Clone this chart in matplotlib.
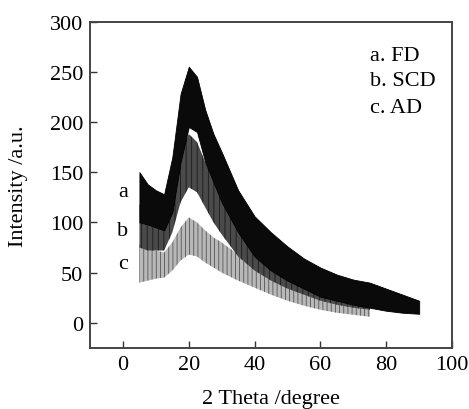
import matplotlib
matplotlib.use("Agg")
import matplotlib.pyplot as plt

plt.rcParams['font.family'] = ['Liberation Serif', 'DejaVu Serif']
plt.rcParams['hatch.linewidth'] = 0.6

# envelopes of the noisy XRD patterns
x_a = [5, 7.5, 10, 12.5, 15, 17.5, 20, 22.5, 25, 27.5, 30, 35, 40, 45, 50, 55, 60, 65, 70, 75, 80, 85, 90]
a_upper = [150, 138, 132, 128, 165, 228, 255, 245, 212, 188, 170, 132, 106, 90, 76, 64, 55, 48, 43, 40, 34, 28, 22]
a_lower = [100, 98, 95, 92, 110, 160, 195, 190, 160, 140, 120, 90, 66, 52, 42, 34, 26, 22, 18, 15, 12, 10, 9]

x_bc = [5, 7.5, 10, 12.5, 15, 17.5, 20, 22.5, 25, 27.5, 30, 35, 40, 45, 50, 55, 60, 65, 70, 75]
b_upper = [118, 112, 108, 105, 130, 170, 188, 180, 160, 145, 130, 105, 82, 66, 56, 46, 38, 32, 28, 26]
b_lower = [75, 72, 72, 72, 90, 120, 135, 130, 115, 100, 88, 66, 52, 42, 34, 28, 22, 18, 15, 13]
c_upper = [78, 74, 72, 70, 80, 95, 105, 100, 92, 85, 80, 68, 58, 50, 44, 37, 32, 28, 25, 24]
c_lower = [40, 42, 44, 45, 52, 62, 68, 66, 60, 55, 50, 42, 35, 28, 22, 17, 13, 10, 8, 6]

curve_labels = ['a', 'b', 'c']
curve_label_y = [131, 92, 59]
legend_lines = ['a. FD', 'b. SCD', 'c. AD']
legend_y = [266, 241, 214]

fig = plt.figure(figsize=(4.69, 4.10), dpi=100)
ax = fig.add_axes([0.192, 0.149, 0.772, 0.796])

ax.fill_between(x_bc, c_lower, c_upper, facecolor='#b8b8b8', edgecolor='#555555',
                hatch='||||', linewidth=0)
ax.fill_between(x_bc, b_lower, b_upper, facecolor='#4a4a4a', edgecolor='#1a1a1a',
                hatch='|||', linewidth=0)
ax.fill_between(x_a, a_lower, a_upper, facecolor='#0a0a0a', edgecolor='black', linewidth=0.6)

for lab, y in zip(curve_labels, curve_label_y):
    ax.text(0, y, lab, fontsize=16, ha='center', va='center')
for txt, y in zip(legend_lines, legend_y):
    ax.text(75, y, txt, fontsize=16, ha='left', va='center')

ax.set_xlim(-10, 100)
ax.set_ylim(-25, 300)
ax.set_xticks([0, 20, 40, 60, 80, 100])
ax.set_yticks([0, 50, 100, 150, 200, 250, 300])
ax.tick_params(direction='in', length=5, width=1, labelsize=16, colors='#333333',
               top=False, right=False, pad=5)
for lbl in ax.get_xticklabels() + ax.get_yticklabels():
    lbl.set_color('black')
for s in ax.spines.values():
    s.set_linewidth(1.4)
    s.set_color('#444444')

ax.set_xlabel('2 Theta /degree', fontsize=16, labelpad=11)
ax.set_ylabel('Intensity /a.u.', fontsize=16, labelpad=16)

fig.savefig('out.png', dpi=100)
